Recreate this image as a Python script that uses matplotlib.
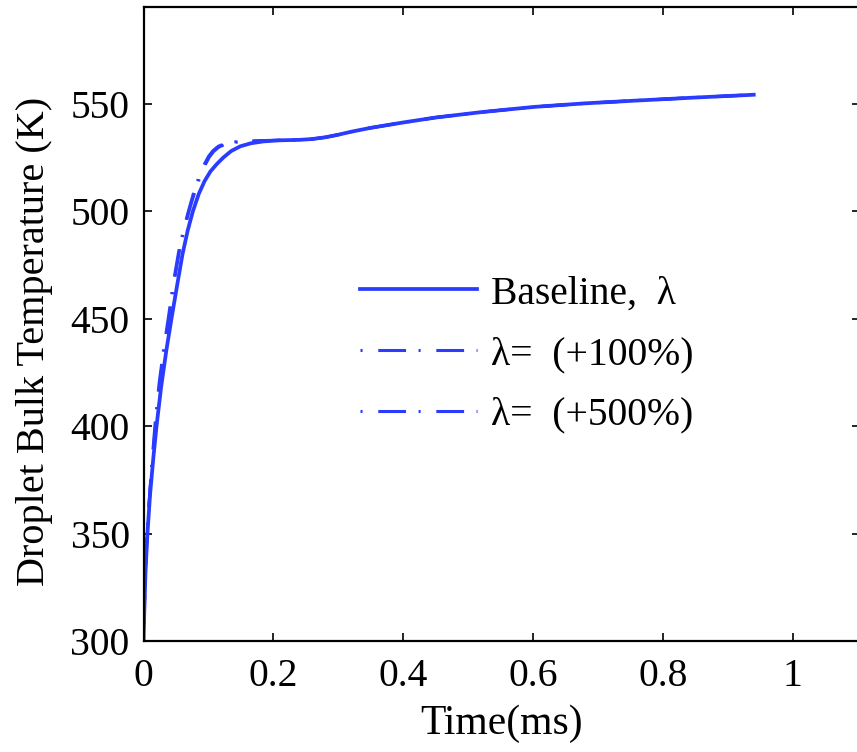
import numpy as np
import matplotlib
matplotlib.use("Agg")
import matplotlib.pyplot as plt

# --- data (time in ms, temperature in K) ---
t_base = [0.0, 0.001, 0.003, 0.006, 0.010, 0.015, 0.020, 0.027, 0.035, 0.043,
          0.052, 0.060, 0.068, 0.076, 0.085, 0.094, 0.103, 0.113, 0.123, 0.135,
          0.149, 0.165, 0.185, 0.210, 0.240, 0.260, 0.280, 0.300, 0.320, 0.350,
          0.400, 0.450, 0.520, 0.600, 0.680, 0.760, 0.850, 0.940]
T_base = [300.0, 312.0, 332.0, 350.0, 368.0, 385.0, 400.0, 418.0, 435.0, 450.0,
          466.0, 480.0, 491.0, 500.0, 508.0, 514.0, 518.5, 522.0, 525.0, 528.0,
          530.2, 531.6, 532.5, 533.0, 533.2, 533.6, 534.4, 535.6, 537.0, 538.8,
          541.3, 543.6, 546.1, 548.5, 550.2, 551.5, 552.9, 554.2]

t_100 = [0.0, 0.001, 0.003, 0.006, 0.010, 0.014, 0.019, 0.025, 0.032, 0.039,
         0.047, 0.055, 0.063, 0.071, 0.079, 0.087, 0.094, 0.101, 0.108, 0.116,
         0.126, 0.138, 0.152, 0.170, 0.190, 0.210, 0.240, 0.260, 0.280, 0.300,
         0.320, 0.350, 0.400, 0.450, 0.520, 0.600, 0.680, 0.760, 0.850, 0.940]
T_100 = [300.0, 313.0, 334.0, 352.0, 370.0, 386.0, 402.0, 420.0, 436.0, 450.0,
         467.0, 481.0, 492.0, 501.0, 509.0, 516.0, 521.0, 525.0, 527.8, 529.8,
         531.2, 532.0, 532.4, 532.7, 532.9, 533.0, 533.2, 533.6, 534.4, 535.6,
         537.0, 538.8, 541.3, 543.6, 546.1, 548.5, 550.2, 551.5, 552.9, 554.2]

t_500 = [0.0, 0.001, 0.003, 0.006, 0.010, 0.014, 0.018, 0.024, 0.031, 0.038,
         0.046, 0.054, 0.062, 0.070, 0.078, 0.086, 0.093, 0.100, 0.107, 0.115,
         0.125, 0.137, 0.151, 0.170, 0.190, 0.210, 0.240, 0.260, 0.280, 0.300,
         0.320, 0.350, 0.400, 0.450, 0.520, 0.600, 0.680, 0.760, 0.850, 0.940]
T_500 = [300.0, 314.0, 335.0, 353.0, 371.0, 387.0, 402.0, 420.0, 436.0, 450.0,
         467.0, 481.0, 492.0, 501.0, 509.5, 516.5, 521.5, 525.5, 528.2, 530.2,
         531.5, 532.2, 532.5, 532.7, 532.9, 533.0, 533.2, 533.6, 534.4, 535.6,
         537.0, 538.8, 541.3, 543.6, 546.1, 548.5, 550.2, 551.5, 552.9, 554.2]

labels = ["Baseline,  λ", "λ=  (+100%)", "λ=  (+500%)"]
x_ticks = [0, 0.2, 0.4, 0.6, 0.8, 1]
x_ticklabels = ["0", "0.2", "0.4", "0.6", "0.8", "1"]
y_ticks = [300, 350, 400, 450, 500, 550]

plt.rcParams["font.family"] = ["Liberation Serif", "DejaVu Serif"]
plt.rcParams["lines.scale_dashes"] = False

blue = "#2a3cff"
fig = plt.figure(figsize=(8.57, 7.52), dpi=100)
# right spine sits just past the image edge, as in the cropped original
ax = fig.add_axes([0.1675, 0.1476, 0.836, 0.843])

ax.plot(t_base, T_base, color=blue, lw=2.7, label=labels[0])
dashdot = (29, (20, 9, 1.5, 11.3))
ax.plot(t_100, T_100, color=blue, lw=2.2, ls=dashdot, label=labels[1])
ax.plot(t_500, T_500, color=blue, lw=2.2, ls=dashdot, label=labels[2])

ax.set_xlim(0, 1.1037)
ax.set_ylim(300, 595)
ax.set_xticks(x_ticks)
ax.set_xticklabels(x_ticklabels)
ax.set_yticks(y_ticks)
ax.tick_params(direction="in", length=6, width=1.2, labelsize=28.5,
               top=True, right=True)
ax.tick_params(axis="x", pad=12)
ax.tick_params(axis="y", pad=10)
for s in ax.spines.values():
    s.set_linewidth(1.6)

ax.set_xlabel("Time(ms)", fontsize=30)
ax.xaxis.set_label_coords(0.5, -0.100)
ax.set_ylabel("Droplet Bulk Temperature (K)", fontsize=29)
ax.yaxis.set_label_coords(-0.127, 0.473)

ax.legend(loc="center left", bbox_to_anchor=(0.302, 0.452), frameon=False,
          fontsize=28.5, handlelength=2.96, handletextpad=0.35, labelspacing=0.6,
          borderpad=0, borderaxespad=0)

fig.savefig("out.png", dpi=100)
